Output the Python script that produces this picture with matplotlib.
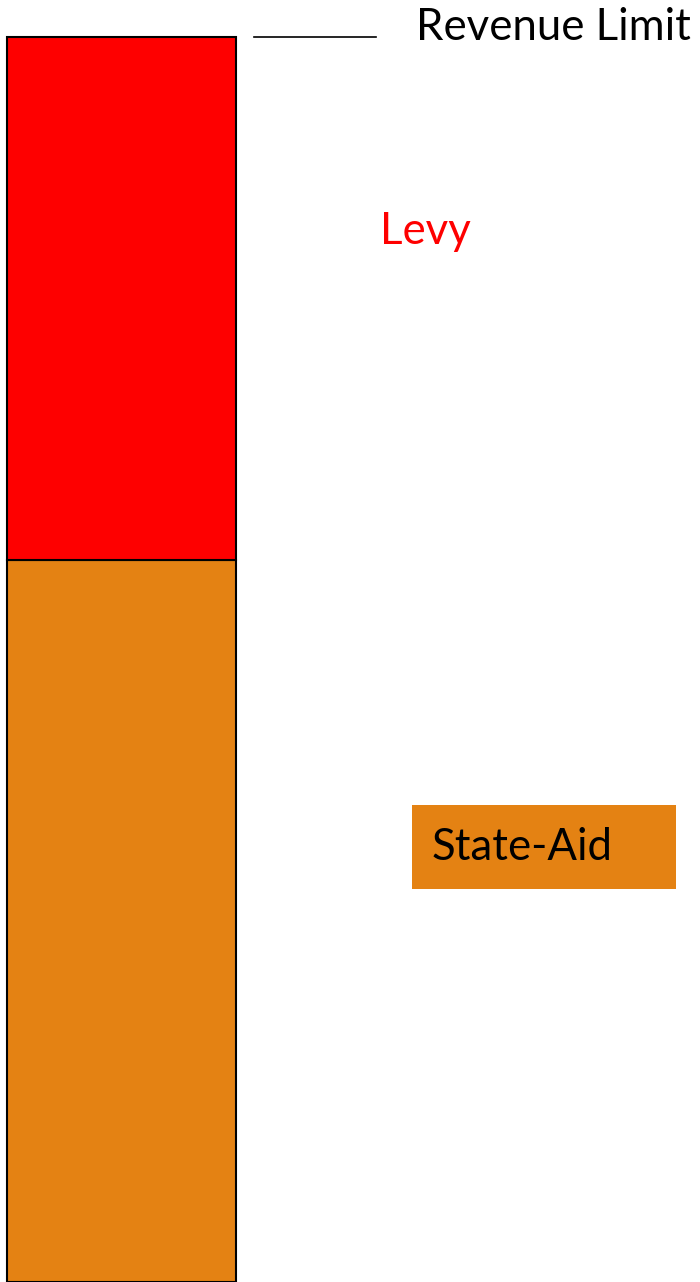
import matplotlib
matplotlib.use("Agg")
import matplotlib.pyplot as plt
from matplotlib.patches import Rectangle

# Data (in pixel-height units of the reference)
segments = ["State-Aid", "Levy"]
values = [722, 523]
colors = ["#E48213", "#FE0000"]
revenue_limit = sum(values)

fig = plt.figure(figsize=(7.0, 12.82), dpi=100)
ax = fig.add_axes([0, 0, 1, 1])
ax.set_xlim(0, 700)
ax.set_ylim(0, 1282)
ax.axis("off")

bottom = 0
for name, v, c in zip(segments, values, colors):
    ax.bar(121.5, v, width=229, bottom=bottom, color=c, edgecolor="black", linewidth=1.5)
    bottom += v

ax.plot([254, 376], [revenue_limit, revenue_limit], color="black", linewidth=1.2)

font = ["Lato", "DejaVu Sans"]
ax.text(416, 1254, "Revenue Limit", fontsize=31.5, family=font, va="center", ha="left", color="black")
ax.text(380, 1050, "Levy", fontsize=31.5, family=font, va="center", ha="left", color="#FE0000")
ax.add_patch(Rectangle((412, 393), 264, 84, facecolor="#E48213", edgecolor="none"))
ax.text(432, 435, "State-Aid", fontsize=31.5, family=font, va="center", ha="left", color="black")

fig.savefig("out.png", dpi=100)
